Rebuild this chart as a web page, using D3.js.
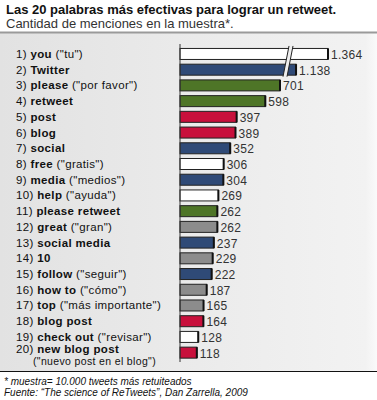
<!DOCTYPE html>
<html><head><meta charset="utf-8">
<script src="https://cdn.jsdelivr.net/npm/d3@7"></script>
<style>body{margin:0;background:#fff}svg{display:block;font-family:Arial,"Liberation Sans",sans-serif}</style>
</head><body><svg id="c" width="377" height="400"></svg>
<script>
const ranks = [1,2,3,4,5,6,7,8,9,10,11,12,13,14,15,16,17,18,19,20];
const words = ["you","Twitter","please","retweet","post","blog","social","free","media","help","please retweet","great","social media","10","follow","how to","top","blog post","check out","new blog post"];
const translations = ["(\"tu\")","","(\"por favor\")","","","","","(\"gratis\")","(\"medios\")","(\"ayuda\")","","(\"gran\")","","","(\"seguir\")","(\"cómo\")","(\"más importante\")","","(\"revisar\")","(\"nuevo  post en el blog\")"];
const values = [1364,1138,701,598,397,389,352,306,304,269,262,262,237,229,222,187,165,164,128,118];
const valueLabels = ["1.364","1.138","701","598","397","389","352","306","304","269","262","262","237","229","222","187","165","164","128","118"];
const groups = ["white","navy","green","green","red","red","navy","white","navy","white","green","gray","navy","gray","navy","gray","gray","red","white","red"];
const colorMap = {white:"#ffffff",navy:"#2f4a77",green:"#4e7527",red:"#c8103c",gray:"#8c8c8c"};

const svg = d3.select("#c");
const defs = svg.append("defs");
const grad = defs.append("linearGradient").attr("id","bg").attr("x1","0").attr("x2","1").attr("y1","0").attr("y2","0");
grad.append("stop").attr("offset","0").attr("stop-color","#e2e2e2");
grad.append("stop").attr("offset","0.7").attr("stop-color","#eeeeee");
grad.append("stop").attr("offset","0.97").attr("stop-color","#f2f2f2");
grad.append("stop").attr("offset","1").attr("stop-color","#fafafa");

// panel
svg.append("rect").attr("x",0).attr("y",33).attr("width",377).attr("height",338).attr("fill","url(#bg)");
svg.append("line").attr("x1",0).attr("x2",377).attr("y1",32.5).attr("y2",32.5).attr("stroke","#9a9a9a").attr("stroke-width",2);
svg.append("line").attr("x1",0).attr("x2",377).attr("y1",371.5).attr("y2",371.5).attr("stroke","#111").attr("stroke-width",1.2);

// titles
svg.append("text").attr("x",6).attr("y",14).attr("font-size",13).attr("font-weight","bold").attr("fill","#111")
  .text("Las 20 palabras más efectivas para lograr un retweet.");
svg.append("text").attr("x",6).attr("y",27.5).attr("font-size",13).attr("fill","#333")
  .text("Cantidad de menciones en la muestra*.");

// scales (broken axis between 750 and 1074)
const x = d3.scaleLinear().domain([0,750,1074,1364]).range([180,287,287,328]);
const y = d3.scaleBand().domain(ranks).range([45.6,360]).paddingInner(0.3).paddingOuter(0.15);

const g = svg.append("g");
g.selectAll("rect.bar").data(ranks).join("rect").attr("class","bar")
  .attr("x",x(0)).attr("y",d=>y(d)+0.5)
  .attr("width",(d,i)=>x(values[i])-x(0)).attr("height",y.bandwidth())
  .attr("fill",(d,i)=>colorMap[groups[i]]).attr("stroke","#222").attr("stroke-width",1);
// darker right edge
g.selectAll("line.edge").data(ranks).join("line").attr("class","edge")
  .attr("x1",(d,i)=>x(values[i])).attr("x2",(d,i)=>x(values[i]))
  .attr("y1",d=>y(d)+0.5).attr("y2",d=>y(d)+0.5+y.bandwidth())
  .attr("stroke","#111").attr("stroke-width",2);

// break marks
const bTop = y(1)-2, bBot = y(2)+y.bandwidth()+2;
const bx = x(750);
const brk = svg.append("g");
brk.append("polygon")
  .attr("points",[[bx+2,bTop],[bx+6,bTop],[bx+0,bBot],[bx-4,bBot]].map(p=>p.join(",")).join(" "))
  .attr("fill","#eeeeee");
brk.append("line").attr("x1",bx+2).attr("y1",bTop).attr("x2",bx-4).attr("y2",bBot).attr("stroke","#222");
brk.append("line").attr("x1",bx+6).attr("y1",bTop).attr("x2",bx).attr("y2",bBot).attr("stroke","#222");

// axis line
svg.append("line").attr("x1",x(0)).attr("x2",x(0)).attr("y1",44).attr("y2",362).attr("stroke","#333").attr("stroke-width",1);

// value labels
g.selectAll("text.val").data(ranks).join("text").attr("class","val")
  .attr("x",(d,i)=>x(values[i])+3).attr("y",(d)=>y(d)+y.bandwidth()/2+5.5)
  .attr("font-size",12).attr("letter-spacing",0.3).attr("fill","#333").text((d,i)=>valueLabels[i]);

// category labels
ranks.forEach((r,i)=>{
  const yc = y(r)+y.bandwidth()/2 + 4.5;
  if(r===20){
    const t = svg.append("text").attr("x",16).attr("y",yc-4).attr("font-size",11.5).attr("letter-spacing",0.35).attr("fill","#111");
    t.append("tspan").text(r+") ");
    t.append("tspan").attr("font-weight","bold").text(words[i]);
    svg.append("text").attr("x",33).attr("y",yc+8.5).attr("font-size",10.5).attr("letter-spacing",0.35).attr("fill","#111").text(translations[i]);
  } else {
    const t = svg.append("text").attr("x",16).attr("y",yc).attr("font-size",11.5).attr("letter-spacing",0.35).attr("fill","#111");
    t.append("tspan").text(r+") ");
    t.append("tspan").attr("font-weight","bold").text(words[i]);
    if(translations[i]) t.append("tspan").text(" "+translations[i]);
  }
});

// footnotes
svg.append("text").attr("x",4).attr("y",385).attr("font-size",10).attr("font-style","italic").attr("fill","#111")
  .text("* muestra= 10.000 tweets más retuiteados");
svg.append("text").attr("x",4).attr("y",396).attr("font-size",10).attr("font-style","italic").attr("fill","#111")
  .text("Fuente: \u201CThe science of ReTweets\u201D,  Dan Zarrella, 2009");
</script></body></html>
